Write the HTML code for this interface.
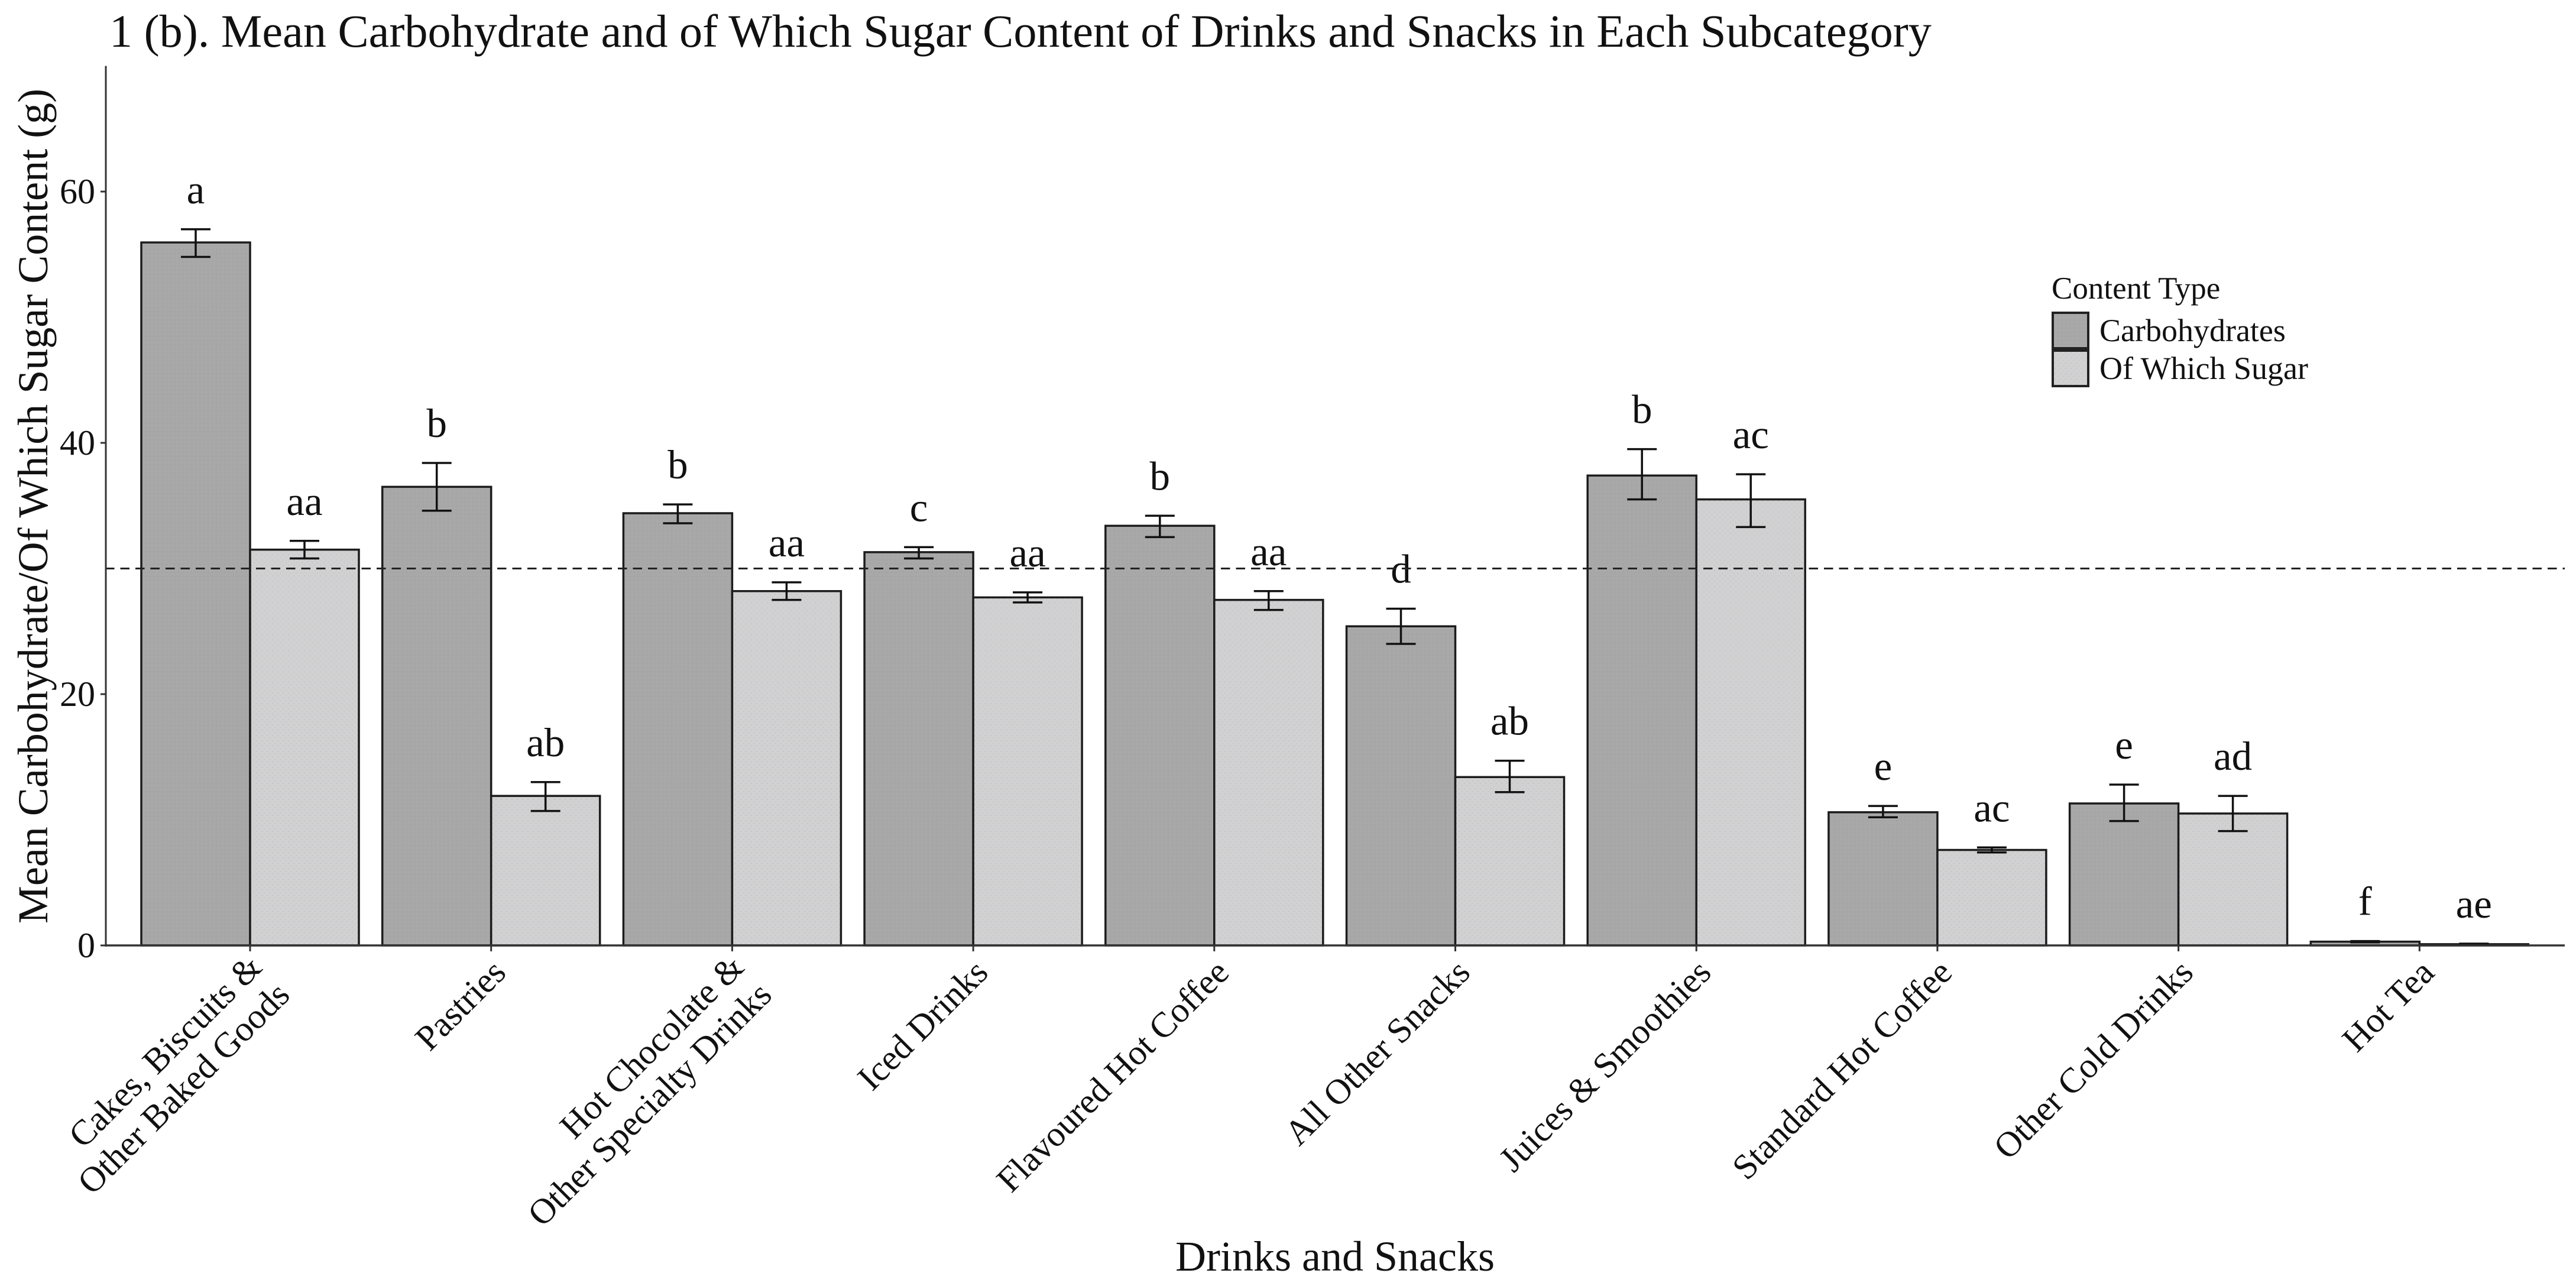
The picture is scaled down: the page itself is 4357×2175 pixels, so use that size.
<!DOCTYPE html>
<html lang="en">
<head>
<meta charset="utf-8">
<title>Mean Carbohydrate and of Which Sugar Content</title>
<style>
html,body{margin:0;padding:0;background:#fff;width:4357px;height:2175px;overflow:hidden}
svg{display:block}
text{font-family:"Liberation Serif","Times New Roman",serif;fill:#111}
</style>
</head>
<body>
<svg id="chart" xmlns="http://www.w3.org/2000/svg" width="4357" height="2175" viewBox="0 0 4357 2175">
  <defs>
    <pattern id="dots-dark" width="7" height="7" patternUnits="userSpaceOnUse">
      <rect width="7" height="7" fill="#a8a8a8"/>
      <circle cx="2" cy="2" r="1.2" fill="#a2a2a2"/>
    </pattern>
    <pattern id="dots-light" width="9" height="9" patternUnits="userSpaceOnUse">
      <rect width="9" height="9" fill="#d1d1d1"/>
      <circle cx="2" cy="2" r="1.3" fill="#c6c6d0"/>
      <circle cx="6.5" cy="6.5" r="1.2" fill="#cbc6cb"/>
    </pattern>
  </defs>
  <rect width="4357" height="2175" fill="#fff"/>
  <text x="185" y="79" font-size="78.2">1 (b). Mean Carbohydrate and of Which Sugar Content of Drinks and Snacks in Each Subcategory</text>
  <text transform="translate(80,856) rotate(-90)" text-anchor="middle" font-size="72">Mean Carbohydrate/Of Which Sugar Content (g)</text>
  <text x="2258" y="2149" text-anchor="middle" font-size="72">Drinks and Snacks</text>
  <g id="marks"></g>
  <g id="axes"></g>
  <g>
    <text x="3470" y="505" font-size="53">Content Type</text>
    <rect x="3472" y="529" width="60" height="60" fill="url(#dots-dark)" stroke="#222" stroke-width="4"/>
    <rect x="3472" y="593" width="60" height="60" fill="url(#dots-light)" stroke="#222" stroke-width="4"/>
    <text x="3551" y="577" font-size="54">Carbohydrates</text>
    <text x="3551" y="641" font-size="54">Of Which Sugar</text>
  </g>
</svg>
<script>
const categories = [
  ["Cakes, Biscuits &", "Other Baked Goods"],
  ["Pastries"],
  ["Hot Chocolate &", "Other Specialty Drinks"],
  ["Iced Drinks"],
  ["Flavoured Hot Coffee"],
  ["All Other Snacks"],
  ["Juices & Smoothies"],
  ["Standard Hot Coffee"],
  ["Other Cold Drinks"],
  ["Hot Tea"]
];
const carbohydrates = [55.95, 36.5, 34.4, 31.3, 33.4, 25.4, 37.4, 10.6, 11.3, 0.3];
const carbohydratesUpper = [57.0, 38.4, 35.1, 31.7, 34.2, 26.8, 39.5, 11.1, 12.8, 0.35];
const carbohydratesLower = [54.8, 34.6, 33.6, 30.8, 32.5, 24.0, 35.5, 10.2, 9.9, 0.25];
const sugar = [31.5, 11.9, 28.2, 27.7, 27.5, 13.4, 35.5, 7.6, 10.5, 0.1];
const sugarUpper = [32.2, 13.0, 28.9, 28.1, 28.2, 14.7, 37.5, 7.8, 11.9, 0.14];
const sugarLower = [30.8, 10.7, 27.5, 27.3, 26.7, 12.2, 33.3, 7.4, 9.1, 0.07];
const carbohydrateLetters = ["a", "b", "b", "c", "b", "d", "b", "e", "e", "f"];
const sugarLetters = ["aa", "ab", "aa", "aa", "aa", "ab", "ac", "ac", "ad", "ae"];
const yTicks = [0, 20, 40, 60];
const referenceLine = 30;

const NS = "http://www.w3.org/2000/svg";
const marks = document.getElementById("marks");
const axes = document.getElementById("axes");

function yScale(v) { return 1599 - v * 21.25; }
function xScale(i) { return 423 + i * 407.7; }

const BAR_W = 184;
const CAP_W = 50;

function shape(tag, parent, props) {
  const el = document.createElementNS(NS, tag);
  for (const k in props) el.setAttribute(k, props[k]);
  parent.appendChild(el);
  return el;
}

function drawSeries(values, side, fill, key) {
  values.forEach(function (v, i) {
    const x0 = side === 0 ? xScale(i) - BAR_W : xScale(i);
    const top = yScale(v);
    const bar = shape("rect", marks, { x: x0, y: top, width: BAR_W, height: yScale(0) - top, fill: fill, stroke: "#1c1c1c", "stroke-width": 3.5 });
    
    
  });
}

function drawErrors(values, upper, lower, letters, side, key) {
  values.forEach(function (v, i) {
    const cx = (side === 0 ? xScale(i) - BAR_W : xScale(i)) + BAR_W / 2;
    const yu = yScale(upper[i]);
    const yl = yScale(lower[i]);
    const stem = shape("line", marks, { x1: cx, x2: cx, y1: yu, y2: yl, stroke: "#111", "stroke-width": 3.5 });
    
    
    const capTop = shape("line", marks, { x1: cx - CAP_W / 2, x2: cx + CAP_W / 2, y1: yu, y2: yu, stroke: "#111", "stroke-width": 3.5 });
    
    
    const capBottom = shape("line", marks, { x1: cx - CAP_W / 2, x2: cx + CAP_W / 2, y1: yl, y2: yl, stroke: "#111", "stroke-width": 3.5 });
    
    
    const label = shape("text", marks, { x: cx, y: yu - 44, "text-anchor": "middle", "font-size": 69 });
    label.textContent = letters[i];
    
    
  });
}

drawSeries(carbohydrates, 0, "url(#dots-dark)", "carbohydrates");
drawSeries(sugar, 1, "url(#dots-light)", "sugar");
drawErrors(carbohydrates, carbohydratesUpper, carbohydratesLower, carbohydrateLetters, 0, "carbohydrates");
drawErrors(sugar, sugarUpper, sugarLower, sugarLetters, 1, "sugar");

const refLine = shape("line", marks, { x1: 178, x2: 4338, y1: yScale(referenceLine), y2: yScale(referenceLine), stroke: "#222", "stroke-width": 3, "stroke-dasharray": "15.5 10" });



const yAxis = shape("line", axes, { x1: 179, x2: 179, y1: yScale(70), y2: yScale(0) + 2, stroke: "#333", "stroke-width": 3 });


const xAxis = shape("line", axes, { x1: 178, x2: 4338, y1: yScale(0), y2: yScale(0), stroke: "#333", "stroke-width": 3.5 });



yTicks.forEach(function (t) {
  const tick = shape("line", axes, { x1: 170, x2: 179, y1: yScale(t), y2: yScale(t), stroke: "#333", "stroke-width": 3 });
  
  
  const label = shape("text", axes, { x: 161, y: yScale(t) + 20, "text-anchor": "end", "font-size": 60 });
  label.textContent = t;
  
  
});

categories.forEach(function (lines, i) {
  const tx = xScale(i);
  const tick = shape("line", axes, { x1: tx, x2: tx, y1: yScale(0), y2: yScale(0) + 10, stroke: "#333", "stroke-width": 3 });
  
  
  lines.forEach(function (line, j) {
    const dx = lines.length === 1 ? 28 : (j === 0 ? 23 : 70);
    const dy = lines.length === 1 ? 1648 : (j === 0 ? 1639 : 1686);
    const label = shape("text", axes, { transform: "translate(" + (tx + dx) + "," + dy + ") rotate(-45)", "text-anchor": "end", "font-size": 60 });
    label.textContent = line;
    
    
  });
});
</script>
</body>
</html>
